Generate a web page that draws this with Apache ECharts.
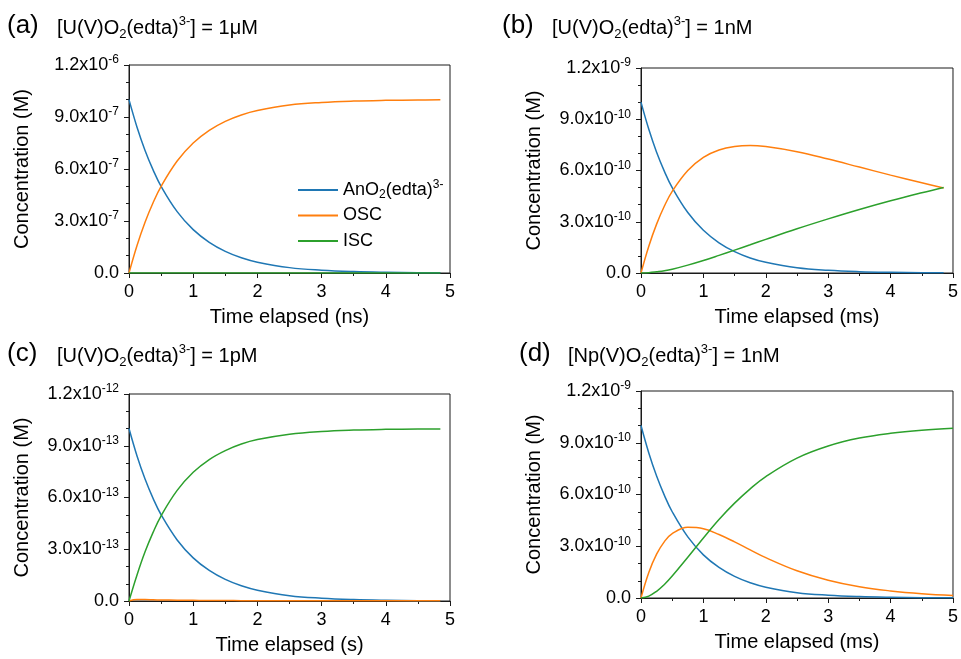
<!DOCTYPE html>
<html>
<head>
<meta charset="utf-8">
<script src="https://cdn.jsdelivr.net/npm/echarts@6/dist/echarts.min.js"></script>
<style>
html,body{margin:0;padding:0;background:#fff;}
#chart{width:961px;height:659px;}
</style>
</head>
<body>
<div id="chart"></div>
<script>
// ---------- data (concentrations in the panel's unit: µM, nM, pM, nM) ----------
const timeABC = [0, 0.125, 0.25, 0.375, 0.5, 0.75, 1, 1.25, 1.5, 1.75, 2, 2.5, 3, 3.5, 4, 4.5, 4.85];
const timeD   = [0, 0.125, 0.25, 0.375, 0.5, 0.75, 1, 1.25, 1.5, 1.75, 2, 2.5, 3, 3.5, 4, 4.5, 5];

// (a) [U(V)O2(edta)3-] = 1 µM   (unit 1e-6 M)
const aAn  = [1.0, 0.841, 0.707, 0.595, 0.5, 0.354, 0.25, 0.177, 0.125, 0.088, 0.0625, 0.031, 0.016, 0.008, 0.004, 0.002, 0.0012];
const aOSC = [0, 0.159, 0.293, 0.405, 0.5, 0.646, 0.75, 0.823, 0.875, 0.912, 0.9375, 0.969, 0.984, 0.992, 0.996, 0.998, 0.9988];
const aISC = [0, 0, 0, 0, 0, 0, 0, 0, 0, 0, 0, 0, 0, 0, 0, 0, 0];

// (b) [U(V)O2(edta)3-] = 1 nM   (unit 1e-9 M)
const bAn  = [1.0, 0.841, 0.707, 0.595, 0.5, 0.354, 0.25, 0.177, 0.125, 0.088, 0.0625, 0.031, 0.016, 0.008, 0.004, 0.002, 0.0012];
const bOSC = [0, 0.157, 0.286, 0.392, 0.478, 0.600, 0.677, 0.720, 0.741, 0.747, 0.740, 0.710, 0.667, 0.620, 0.573, 0.528, 0.498];
const bISC = [0, 0.002, 0.007, 0.013, 0.022, 0.046, 0.073, 0.103, 0.134, 0.165, 0.197, 0.259, 0.317, 0.372, 0.423, 0.470, 0.501];

// (c) [U(V)O2(edta)3-] = 1 pM   (unit 1e-12 M)
const cAn  = [1.0, 0.841, 0.707, 0.595, 0.5, 0.354, 0.25, 0.177, 0.125, 0.088, 0.0625, 0.031, 0.016, 0.008, 0.004, 0.002, 0.0012];
const cOSC = [0, 0.008, 0.008, 0.007, 0.006, 0.005, 0.004, 0.003, 0.003, 0.002, 0.002, 0.002, 0.001, 0.001, 0.001, 0.001, 0.001];
const cISC = [0, 0.151, 0.285, 0.398, 0.494, 0.641, 0.746, 0.820, 0.872, 0.910, 0.936, 0.967, 0.983, 0.991, 0.995, 0.997, 0.9978];

// (d) [Np(V)O2(edta)3-] = 1 nM  (unit 1e-9 M)
const dAn  = [1.0, 0.841, 0.707, 0.595, 0.5, 0.354, 0.25, 0.177, 0.125, 0.088, 0.0625, 0.031, 0.016, 0.008, 0.004, 0.002, 0.001];
const dOSC = [0, 0.148, 0.254, 0.327, 0.373, 0.410, 0.402, 0.368, 0.325, 0.279, 0.234, 0.158, 0.103, 0.065, 0.041, 0.025, 0.015];
const dISC = [0, 0.011, 0.039, 0.078, 0.127, 0.236, 0.348, 0.455, 0.550, 0.633, 0.704, 0.811, 0.881, 0.927, 0.955, 0.973, 0.984];

// tick labels: [mantissa, exponent]
const yLabelsA = [['0.0',''], ['3.0x10','-7'], ['6.0x10','-7'], ['9.0x10','-7'], ['1.2x10','-6']];
const yLabelsB = [['0.0',''], ['3.0x10','-10'], ['6.0x10','-10'], ['9.0x10','-10'], ['1.2x10','-9']];
const yLabelsC = [['0.0',''], ['3.0x10','-13'], ['6.0x10','-13'], ['9.0x10','-13'], ['1.2x10','-12']];
const yLabelsD = [['0.0',''], ['3.0x10','-10'], ['6.0x10','-10'], ['9.0x10','-10'], ['1.2x10','-9']];
const xLabels = ['0', '1', '2', '3', '4', '5'];

const seriesNames = ['AnO2(edta)3-', 'OSC', 'ISC'];
const xNames = ['Time elapsed (ns)', 'Time elapsed (ms)', 'Time elapsed (s)', 'Time elapsed (ms)'];
const panelTags = ['(a)', '(b)', '(c)', '(d)'];
const panelTitles = [
  ['[U(V)O', '2', '(edta)', '3-', '] = 1μM'],
  ['[U(V)O', '2', '(edta)', '3-', '] = 1nM'],
  ['[U(V)O', '2', '(edta)', '3-', '] = 1pM'],
  ['[Np(V)O', '2', '(edta)', '3-', '] = 1nM']
];

// ---------- styles ----------
const FONT = '"Liberation Sans", Arial, sans-serif';
const COLORS = ['#1f77b4', '#ff7f0e', '#2ca02c'];
const AXIS_COLOR = '#1a1a1a';

const grids = [
  {left: 129, top: 65,  width: 321, height: 208},
  {left: 641, top: 68,  width: 321, height: 205},
  {left: 129, top: 394, width: 321, height: 207},
  {left: 641, top: 391, width: 321, height: 207}
];
const tagPos = [[7, 13], [502, 13], [7, 341], [519, 341]];
const titlePos = [[57, 15], [552, 15], [57, 343], [568, 343]];

const times = [timeABC, timeABC, timeABC, timeD];
const panels = [[aAn, aOSC, aISC], [bAn, bOSC, bISC], [cAn, cOSC, cISC], [dAn, dOSC, dISC]];
const yLabelSets = [yLabelsA, yLabelsB, yLabelsC, yLabelsD];

const richLabel = {
  m: {fontSize: 18, fontFamily: FONT, color: '#000', lineHeight: 22},
  s: {fontSize: 12, fontFamily: FONT, color: '#000', lineHeight: 14, verticalAlign: 'top'}
};

const option = {
  animation: false,
  backgroundColor: '#fff',
  grid: grids.map(g => Object.assign({show: true, borderColor: AXIS_COLOR, borderWidth: 1, backgroundColor: 'transparent'}, g)),
  xAxis: grids.map((g, i) => ({
    gridIndex: i, type: 'value', min: 0, max: 5, interval: 1,
    name: xNames[i], nameLocation: 'middle', nameGap: 34,
    nameTextStyle: {fontSize: 20, fontFamily: FONT, color: '#000'},
    axisLine: {show: true, lineStyle: {color: AXIS_COLOR, width: 1}},
    axisTick: {show: true, inside: false, length: 5, lineStyle: {color: AXIS_COLOR}},
    minorTick: {show: true, splitNumber: 2, length: 3, lineStyle: {color: AXIS_COLOR}},
    splitLine: {show: false}, minorSplitLine: {show: false},
    axisLabel: {fontSize: 18, fontFamily: FONT, color: '#000', margin: 10,
      formatter: v => xLabels[Math.round(v)]}
  })),
  yAxis: grids.map((g, i) => ({
    gridIndex: i, type: 'value', min: 0, max: 1.2, interval: 0.3,
    name: 'Concentration (M)', nameLocation: 'middle', nameGap: 97,
    nameTextStyle: {fontSize: 20, fontFamily: FONT, color: '#000'},
    axisLine: {show: true, lineStyle: {color: AXIS_COLOR, width: 1}},
    axisTick: {show: true, inside: false, length: 5, lineStyle: {color: AXIS_COLOR}},
    minorTick: {show: true, splitNumber: 3, length: 3, lineStyle: {color: AXIS_COLOR}},
    splitLine: {show: false}, minorSplitLine: {show: false},
    axisLabel: {margin: 10, rich: richLabel,
      formatter: v => {
        const l = yLabelSets[i][Math.round(v / 0.3)];
        if (!l) return '';
        return l[1] ? '{m|' + l[0] + '}{s|' + l[1] + '}' : '{m|' + l[0] + '}';
      }}
  })),
  legend: {
    left: 293, top: 174, orient: 'vertical',
    icon: 'rect', itemWidth: 40, itemHeight: 2, itemGap: 3.5,
    data: seriesNames,
    textStyle: {fontSize: 18, fontFamily: FONT, color: '#000', lineHeight: 22,
      rich: {
        t: {fontSize: 18, fontFamily: FONT, color: '#000', lineHeight: 22},
        sub: {fontSize: 12, fontFamily: FONT, color: '#000', lineHeight: 12, verticalAlign: 'bottom'},
        sup: {fontSize: 12, fontFamily: FONT, color: '#000', lineHeight: 14, verticalAlign: 'top'}
      }},
    formatter: name => name === seriesNames[0] ? '{t|AnO}{sub|2}{t|(edta)}{sup|3-}' : '{t|' + name + '}'
  },
  series: [],
  graphic: []
};

panels.forEach((p, i) => {
  p.forEach((vals, k) => {
    option.series.push({
      type: 'line', name: seriesNames[k], xAxisIndex: i, yAxisIndex: i,
      data: times[i].map((t, j) => [t, vals[j]]),
      smooth: 0.4, symbol: 'none', showSymbol: false,
      lineStyle: {color: COLORS[k], width: 1.5}, itemStyle: {color: COLORS[k]},
      clip: true
    });
  });
  option.graphic.push({
    type: 'text', left: tagPos[i][0], top: tagPos[i][1],
    style: {text: panelTags[i], font: '26px ' + FONT, fill: '#000'}
  });
  const tt = panelTitles[i];
  option.graphic.push({
    type: 'text', left: titlePos[i][0], top: titlePos[i][1],
    style: {
      text: '{t|' + tt[0] + '}{sub|' + tt[1] + '}{t|' + tt[2] + '}{sup|' + tt[3] + '}{t|' + tt[4] + '}',
      fill: '#000',
      rich: {
        t: {fontSize: 20, fontFamily: FONT, fill: '#000', lineHeight: 26},
        sub: {fontSize: 13, fontFamily: FONT, fill: '#000', lineHeight: 13, verticalAlign: 'bottom'},
        sup: {fontSize: 13, fontFamily: FONT, fill: '#000', lineHeight: 14, verticalAlign: 'top'}
      }
    }
  });
});

const chart = echarts.init(document.getElementById('chart'), null, {renderer: 'canvas'});
chart.setOption(option);
</script>
</body>
</html>
